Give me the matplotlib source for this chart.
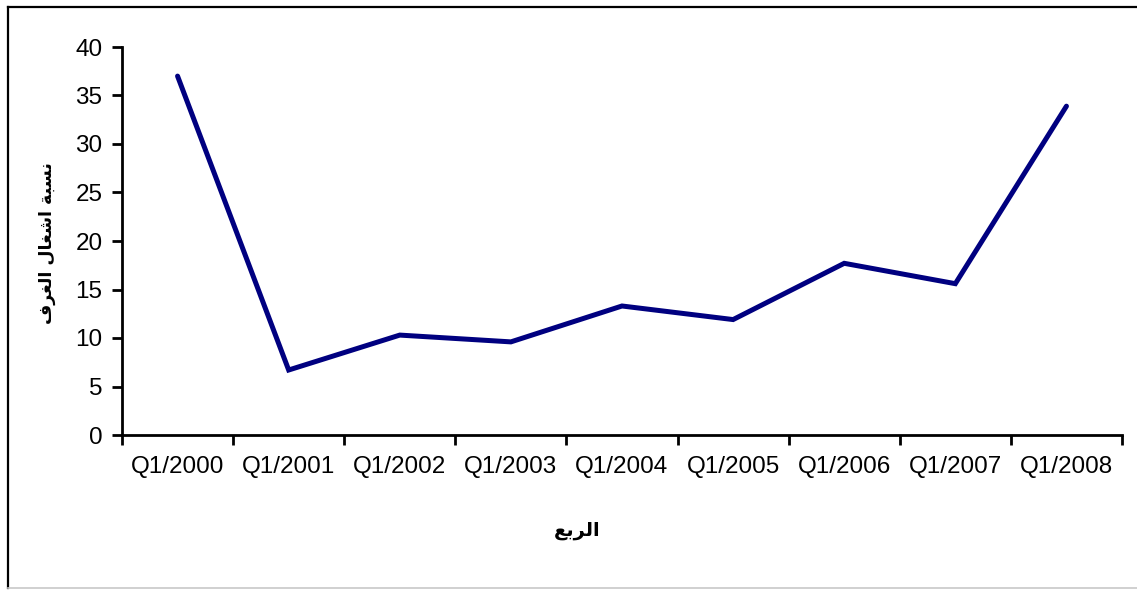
import matplotlib
matplotlib.use("Agg")
import matplotlib.pyplot as plt
from matplotlib.lines import Line2D

# Data
quarters = ["Q1/2000", "Q1/2001", "Q1/2002", "Q1/2003", "Q1/2004",
            "Q1/2005", "Q1/2006", "Q1/2007", "Q1/2008"]
occupancy = [37.0, 6.7, 10.3, 9.6, 13.3, 11.9, 17.7, 15.6, 33.9]
y_ticks = [0, 5, 10, 15, 20, 25, 30, 35, 40]

# Arabic labels (logical text) and pre-shaped visual forms for rendering
x_label_text = "الربع"
y_label_text = "نسبة اشغال الغرف"
x_label_visual = "\uFECA\uFE91\uFEAE\uFEDF\uFE8D"
y_label_visual = ("\uFED1\uFEAE\uFED0\uFEDF\uFE8D" + " " +
                  "\uFEDD\uFE8E\uFED0\uFEB7\uFE8D" + " " +
                  "\uFE94\uFE92\uFEB4\uFEE7")

W, H = 1137, 590
fig = plt.figure(figsize=(W / 100, H / 100), dpi=100)
ax = fig.add_axes([122 / W, 1 - 435 / H, (1122 - 122) / W, (435 - 47) / H])

x = list(range(len(quarters)))
ax.plot(x, occupancy, color="#000080", lw=3.6, solid_capstyle="round",
        solid_joinstyle="miter")

ax.set_xlim(-0.5, len(quarters) - 0.5)
ax.set_ylim(0, 40)
ax.set_yticks(y_ticks)
ax.set_yticklabels([str(v) for v in y_ticks], fontfamily="Liberation Sans",
                   fontsize=17.5)

# Category labels at centers, tick marks at boundaries
ax.set_xticks(x)
ax.set_xticklabels(quarters, fontfamily="Liberation Sans", fontsize=17.5)
ax.tick_params(axis="x", which="major", length=0, pad=15)
ax.set_xticks([i - 0.5 for i in range(len(quarters) + 1)], minor=True)
ax.tick_params(axis="x", which="minor", length=7, width=2, direction="out")
ax.tick_params(axis="y", which="major", length=7, width=2, direction="out",
               pad=7)

for s in ["top", "right"]:
    ax.spines[s].set_visible(False)
for s in ["left", "bottom"]:
    ax.spines[s].set_linewidth(2)
    ax.spines[s].set_color("black")

fig.text(577 / W, 1 - 530 / H, x_label_visual, ha="center", va="center",
         fontsize=14, fontweight="bold", family=["DejaVu Sans"])
fig.text(47 / W, 1 - 243 / H, y_label_visual, ha="center", va="center",
         rotation=90, fontsize=12.5, fontweight="bold", family=["DejaVu Sans"])

# Outer border (chart area frame)
fig.add_artist(Line2D([8 / W, 8 / W], [1 - 7 / H, 1 - 588 / H],
                      transform=fig.transFigure, color="black", lw=1.6))
fig.add_artist(Line2D([8 / W, 1.0], [1 - 7 / H, 1 - 7 / H],
                      transform=fig.transFigure, color="black", lw=1.6))
fig.add_artist(Line2D([8 / W, 1.0], [1 - 588 / H, 1 - 588 / H],
                      transform=fig.transFigure, color="#c8c8c8", lw=1.2))

fig.savefig("out.png", dpi=100)
